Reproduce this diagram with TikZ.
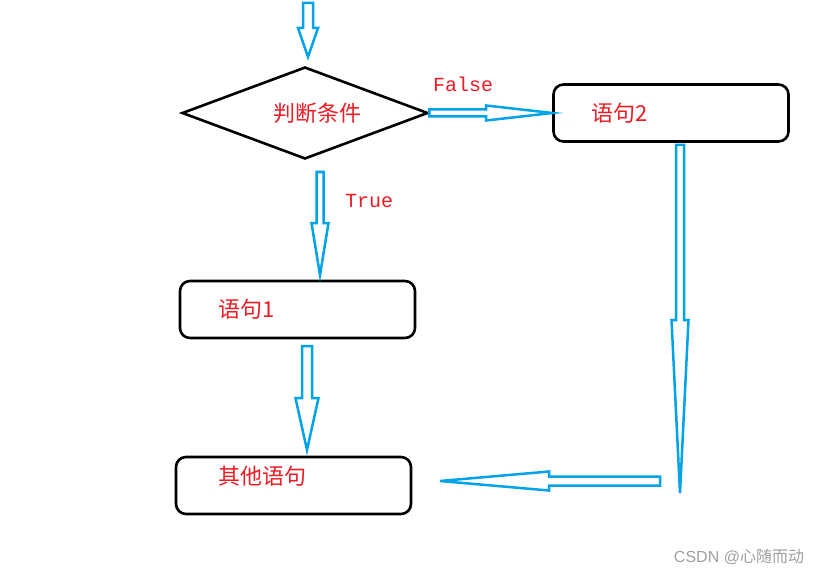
\documentclass[tikz,border=0pt]{standalone}
\usepackage{fontspec}
\setmainfont{Liberation Serif}
\setsansfont{Liberation Sans}
\setmonofont{Liberation Mono}
\newfontfamily\cjkfont{Noto Sans CJK SC}
\usetikzlibrary{calc,shapes.geometric,positioning}

\definecolor{arrowblue}{RGB}{0,162,232}
\definecolor{textred}{RGB}{237,28,36}
\definecolor{markgray}{RGB}{160,160,160}

% hollow block arrow: #1 start, #2 tip, #3 shaft half width, #4 head half width, #5 head length
\newcommand{\blockarrow}[5]{%
    \path ($(#2)!#5!(#1)$) coordinate (hb);
    \draw[blockarrow] ($(#1)!#3!90:(#2)$) -- ($(hb)!#3!90:(#2)$) -- ($(hb)!#4!90:(#2)$)
        -- (#2) -- ($(hb)!#4!-90:(#2)$) -- ($(hb)!#3!-90:(#2)$) -- ($(#1)!#3!-90:(#2)$) -- cycle;}

\begin{document}
\begin{tikzpicture}[x=1pt,y=-1pt,
        box/.style={draw,line width=2.6pt,rounded corners=10pt,minimum width=235pt,minimum height=57pt,
            text width=159pt,inner xsep=38pt,align=left,text=textred,font=\cjkfont\fontsize{22}{26}\selectfont},
        decision/.style={diamond,draw,line width=2.6pt,minimum width=246pt,minimum height=92pt,inner sep=0pt,
            aspect=2.67,text=textred,font=\cjkfont\fontsize{22}{26}\selectfont},
        lbl/.style={text=textred,font=\ttfamily\fontsize{20}{24}\selectfont},
        blockarrow/.style={draw=arrowblue,line width=2.5pt,line join=miter}]
    \useasboundingbox (0,0) rectangle (822,575);
    \fill[white] (0,0) rectangle (822,575);

    % Condition and statements
    \node[decision] (cond) at (305,113) {\hspace*{24pt}判断条件};
    \node[box] (stmt2) at (671,113) {语句2};
    \node[box] (stmt1) at (297.5,309.5) {语句1};
    \node[box,inner xsep=42pt,text width=151pt,text depth=20pt] (other) at (293.5,485.5) {其他语句};

    % Labels
    \node[lbl] (false) at (463,84) {False};
    \node[lbl] (true) at (369,201) {True};

    % Invisible ends
    \coordinate (in0) at (308,3);
    \coordinate (in1) at (308,57);
    \coordinate (t0) at (320,172);
    \coordinate (t1) at (320,275);
    \coordinate (s0) at (307,346);
    \coordinate (s1) at (307,450);
    \coordinate (r0) at (680,145);
    \coordinate (r1) at (680,493);
    \coordinate (l0) at (660,481);
    \coordinate (l1) at (440,481);

    % Arrows
    \blockarrow{in0}{in1}{5pt}{10pt}{29pt}
    \blockarrow{cond.east}{stmt2.west}{3.5pt}{7.5pt}{66pt}
    \blockarrow{t0}{t1}{3.5pt}{8.5pt}{52pt}
    \blockarrow{s0}{s1}{5pt}{11.5pt}{52pt}
    \blockarrow{r0}{r1}{4pt}{8.5pt}{173pt}
    \blockarrow{l0}{l1}{4.5pt}{9.5pt}{109pt}

    % Watermark
    \node[text=markgray,font=\fontsize{16}{19}\selectfont] (mark) at (739,557) {\sffamily CSDN @\cjkfont 心随而动};
\end{tikzpicture}
\end{document}
